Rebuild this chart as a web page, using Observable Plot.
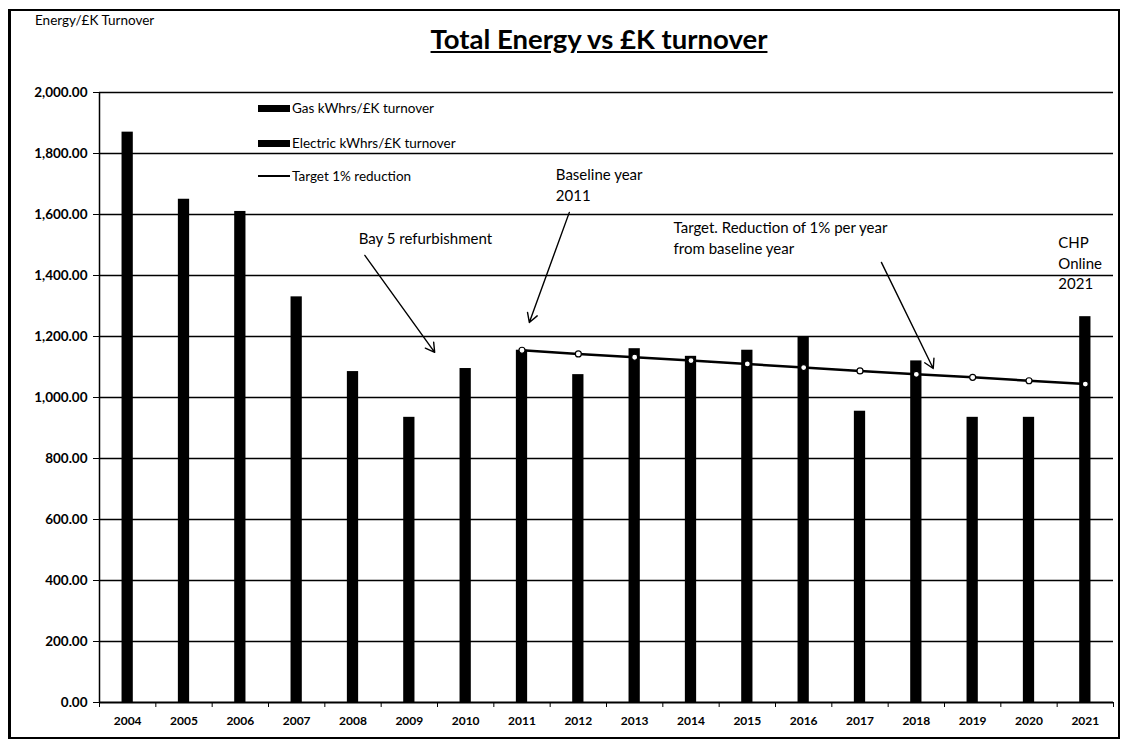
<!DOCTYPE html>
<html><head><meta charset="utf-8">
<script src="https://cdn.jsdelivr.net/npm/d3@7"></script>
<script src="https://cdn.jsdelivr.net/npm/@observablehq/plot@0.6"></script>
<style>
body{margin:0;background:#fff;font-family:Lato,"Open Sans",sans-serif;color:#000;}
#wrap{position:relative;width:1127px;height:744px;overflow:hidden;}
#frame{position:absolute;left:8px;top:9px;width:1112px;height:730px;border:2px solid #000;border-left-width:3px;box-sizing:border-box;pointer-events:none;}
#header{height:60px;position:relative;}
#ylabel{position:absolute;left:35px;top:12px;font-size:13.5px;}
#title{position:absolute;left:599px;transform:translateX(-50%);top:22px;font-size:27.5px;font-weight:bold;text-decoration:underline;white-space:nowrap;}
.leg{position:absolute;left:258px;font-size:13.5px;display:flex;align-items:center;white-space:nowrap;}
.sw{display:inline-block;width:32px;height:7px;background:#000;margin-right:2px;}
.ln{display:inline-block;width:32px;height:2px;background:#000;margin-right:2px;}
</style></head>
<body>
<div id="wrap">
  <div id="header">
    <div id="ylabel"></div>
    <div id="title"></div>
  </div>
  <div id="chart"></div>
  <div id="legend"></div>
  <div id="frame"></div>
</div>
<script>
const years = [2004,2005,2006,2007,2008,2009,2010,2011,2012,2013,2014,2015,2016,2017,2018,2019,2020,2021];
const totalEnergy = [1870,1650,1610,1330,1085,935,1095,1155,1075,1160,1135,1155,1200,955,1120,935,935,1265];
const targetYears = [2011,2012,2013,2014,2015,2016,2017,2018,2019,2020,2021];
const targetValues = [1155,1143,1132,1121,1110,1098,1087,1076,1066,1055,1044];
const yTicks = [0,200,400,600,800,1000,1200,1400,1600,1800,2000];
const legendLabels = ["Gas kWhrs/£K turnover","Electric kWhrs/£K turnover","Target 1% reduction"];
const titleText = "Total Energy vs £K turnover";
const yLabelText = "Energy/£K Turnover";

const annotationTexts = [
  {label:"Bay 5 refurbishment", x:2008.10, y:1551},
  {label:"Baseline year\n2011", x:2011.60, y:1759},
  {label:"Target. Reduction of 1% per year\nfrom baseline year", x:2013.69, y:1585},
  {label:"CHP\nOnline\n2021", x:2020.52, y:1536}
];
const annotationArrows = [
  {x1:2008.21, y1:1466, x2:2009.45, y2:1148},
  {x1:2011.84, y1:1607, x2:2011.13, y2:1246},
  {x1:2017.38, y1:1443, x2:2018.30, y2:1095}
];

document.getElementById("title").textContent = titleText;
document.getElementById("ylabel").textContent = yLabelText;

const bars = years.map((year,i)=>({year, total: totalEnergy[i]}));
const target = targetYears.map((year,i)=>({year, value: targetValues[i]}));
const boundaries = [years[0]-0.5, ...years.map(y=>y+0.5)];

const chart = Plot.plot({
  width:1127, height:684,
  marginTop:32, marginBottom:42, marginLeft:99, marginRight:14,
  style:{fontFamily:"Lato, 'Open Sans', sans-serif", fontSize:"11px", color:"#000", background:"transparent"},
  x:{type:"linear", domain:[years[0]-0.5, years[years.length-1]+0.5]},
  y:{domain:[0,2000]},
  marks:[
    Plot.ruleY(yTicks.slice(1), {stroke:"#000", strokeWidth:1.6}),
    Plot.rectY(bars, {x1:d=>d.year-0.1, x2:d=>d.year+0.1, y:"total", fill:"#000"}),
    Plot.line(target, {x:"year", y:"value", stroke:"#000", strokeWidth:2.5}),
    Plot.dot(target, {x:"year", y:"value", r:3, fill:"#fff", stroke:"#000", strokeWidth:1.2}),
    Plot.ruleX([boundaries[0]], {stroke:"#000", strokeWidth:1.5}),
    Plot.ruleY([0], {stroke:"#000", strokeWidth:2}),
    Plot.axisY({ticks:yTicks, tickFormat:d3.format(",.2f"), tickSize:6, tickPadding:6, fontWeight:"bold", fontSize:13.5, label:null}),
    Plot.axisX({ticks:years, tickSize:0, tickPadding:14, tickFormat:d=>String(d), fontWeight:"bold", fontSize:12, label:null}),
    Plot.axisX({ticks:boundaries, tickSize:5, tickFormat:()=>"", label:null}),
    Plot.arrow(annotationArrows, {x1:"x1", y1:"y1", x2:"x2", y2:"y2", stroke:"#000", strokeWidth:1.4, headLength:11}),
    Plot.text(annotationTexts, {x:"x", y:"y", text:"label", textAnchor:"start", lineAnchor:"top", lineHeight:1.35, fontSize:15, fill:"#000"})
  ]
});
document.getElementById("chart").appendChild(chart);

const legendTops = [109,144,177];
const leg = document.getElementById("legend");
legendLabels.forEach((lab,i)=>{
  const row = document.createElement("div");
  row.className = "leg";
  row.style.top = (legendTops[i]-9)+"px";
  const sw = document.createElement("span");
  sw.className = i<2 ? "sw" : "ln";
  row.appendChild(sw);
  const t = document.createElement("span");
  t.textContent = lab;
  row.appendChild(t);
  leg.appendChild(row);
});
</script>
</body></html>
